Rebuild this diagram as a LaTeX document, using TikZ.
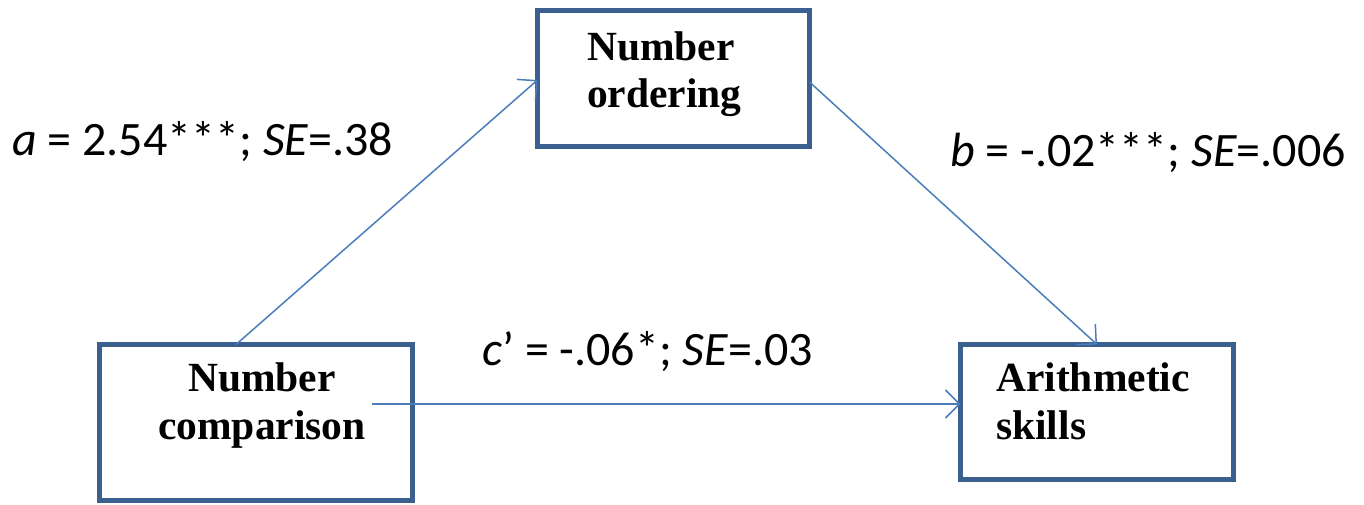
\documentclass[tikz,border=0pt]{standalone}
\usepackage{fontspec}
\setmainfont{Liberation Serif}
\newfontfamily\lblfont{Carlito}
\usetikzlibrary{arrows.meta}
\definecolor{boxblue}{HTML}{3B5F8E}
\definecolor{arrowblue}{HTML}{4A7EBB}
\tikzset{
  varbox/.style={draw=boxblue, line width=5pt, rectangle, inner sep=0pt, outer sep=0pt},
  boxtext/.style={font=\fontsize{41.5}{47}\selectfont\bfseries, inner sep=0pt, align=left},
  pathlbl/.style={font=\lblfont\fontsize{48}{55}\selectfont, inner sep=0pt, anchor=base west},
  conn/.style={draw=arrowblue, line width=1.5pt, -{Straight Barb[length=14pt,width=28pt,line width=1.5pt]}}
}
\begin{document}
\begin{tikzpicture}[x=1pt,y=-1pt]
\useasboundingbox (0,0) rectangle (1364,504);
% boxes
\node[varbox, minimum width=272pt, minimum height=136pt] (ord) at (673.5,78.5) {};
\node[varbox, minimum width=313pt, minimum height=156pt] (cmp) at (256,422.5) {};
\node[varbox, minimum width=273pt, minimum height=135pt] (ari) at (1097,412) {};
% box texts
\node[boxtext, anchor=base west] (ordt1) at (587,60) {Number};
\node[boxtext, anchor=base west] (ordt2) at (587,107) {ordering};
\node[boxtext, anchor=base] (cmpt1) at (262,391) {Number};
\node[boxtext, anchor=base] (cmpt2) at (262,439) {comparison};
\node[boxtext, anchor=base west] (arit1) at (996,391) {Arithmetic};
\node[boxtext, anchor=base west] (arit2) at (996,439) {skills};
% connectors
\coordinate (cstart) at (372,404);
\draw[conn] (cmp.north -| 236,0) -- (ord.west |- 0,80);
\draw[conn] (ord.east |- 0,82) -- (ari.north);
\draw[conn] (cstart) -- (ari.west |- cstart);
% labels
\node[pathlbl] (la) at (12,155) {\textit{a} = 2.54***; \textit{SE}=.38};
\node[pathlbl] (lb) at (950,166) {\textit{b} = -.02***; \textit{SE}=.006};
\node[pathlbl] (lc) at (482,365) {\textit{c}’ = -.06*; \textit{SE}=.03};
\end{tikzpicture}
\end{document}
